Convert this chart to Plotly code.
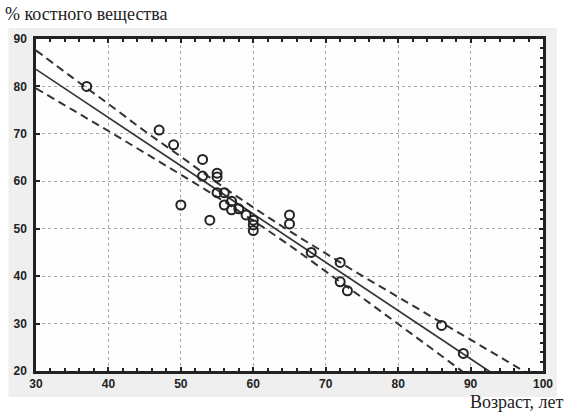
import plotly.graph_objects as go

# Observations: age (years) vs bone substance (%)
age = [37, 47, 49, 50, 53, 53, 54, 55, 55, 55, 56, 56, 57, 57, 58, 59,
       60, 60, 60, 65, 65, 68, 72, 72, 73, 86, 89]
bone = [80.0, 70.8, 67.7, 55.0, 64.6, 61.1, 51.8, 61.7, 60.9, 57.6, 57.6,
        55.0, 55.8, 54.0, 54.2, 52.9, 51.8, 50.8, 49.6, 52.9, 51.0, 45.0,
        42.9, 38.8, 36.9, 29.6, 23.7]

# Fitted regression line (end points)
fit_x = [30, 100]
fit_y = [83.6, 12.4]

# Confidence band around the fit
band_x = [30, 35, 40, 45, 50, 55, 60, 65, 70, 75, 80, 85, 90, 95, 100]
band_upper = [87.6, 81.9, 76.3, 70.6, 65.2, 59.7, 54.5, 49.5, 44.8, 40.1,
              35.6, 31.1, 26.6, 22.1, 17.6]
band_lower = [79.6, 75.1, 70.6, 66.0, 61.4, 56.7, 51.7, 46.5, 41.0, 35.5,
              29.9, 24.3, 18.6, 12.9, 7.2]

x_ticks = [30, 40, 50, 60, 70, 80, 90, 100]
y_ticks = [20, 30, 40, 50, 60, 70, 80, 90]

W, H = 565, 412
ML, MR, MT, MB = 36, 14, 39, 41
PW, PH = W - ML - MR, H - MT - MB


def px_x(p):
    return (p - ML) / PW


def px_y(p):
    return (H - MB - p) / PH


INK = "#222222"
tick_font = dict(family="Liberation Sans", size=12, color=INK, weight="bold")
serif = dict(family="Liberation Serif", size=18, color=INK)

fig = go.Figure()

dash_style = dict(color="#333333", width=2, dash="8px,5px")
fig.add_trace(go.Scatter(x=band_x, y=band_upper, mode="lines",
                         line=dict(shape="spline", **dash_style),
                         hoverinfo="skip"))
fig.add_trace(go.Scatter(x=band_x, y=band_lower, mode="lines",
                         line=dict(shape="spline", **dash_style),
                         hoverinfo="skip"))
fig.add_trace(go.Scatter(x=fit_x, y=fit_y, mode="lines",
                         line=dict(color="#333333", width=1.7)))
fig.add_trace(go.Scatter(x=age, y=bone, mode="markers",
                         marker=dict(symbol="circle-open", size=9,
                                     color=INK, line=dict(width=2, color=INK))))
# companion trace for the right-hand axis
fig.add_trace(go.Scatter(x=[30], y=[20], yaxis="y2", mode="markers",
                         marker=dict(opacity=0), hoverinfo="skip"))

fig.update_layout(
    width=W, height=H,
    margin=dict(l=ML, r=MR, t=MT, b=MB),
    paper_bgcolor="white",
    plot_bgcolor="rgba(0,0,0,0)",
    showlegend=False,
    xaxis=dict(range=[30, 100], tickvals=x_ticks, ticks="inside", ticklen=4,
               tickwidth=2, tickcolor=INK,
               minor=dict(dtick=2, ticks="inside", ticklen=3, tickwidth=2,
                          tickcolor=INK, showgrid=False),
               showline=True, linewidth=2.5, linecolor=INK, mirror="ticks",
               showgrid=True, gridcolor="#aaaaaa", gridwidth=1, griddash="dot",
               zeroline=False, tickfont=tick_font),
    yaxis=dict(range=[20, 90], tickvals=y_ticks, ticks="inside", ticklen=4,
               tickwidth=2, tickcolor=INK,
               showline=True, linewidth=2.5, linecolor=INK, mirror=True,
               showgrid=True, gridcolor="#aaaaaa", gridwidth=1, griddash="dot",
               zeroline=False, tickfont=tick_font, ticklabelstandoff=4),
    yaxis2=dict(range=[20, 90], overlaying="y", side="right",
                tickvals=y_ticks, ticks="inside", ticklen=4, tickwidth=2,
                tickcolor=INK, showticklabels=False, showgrid=False,
                zeroline=False, showline=False,
                minor=dict(dtick=2, ticks="inside", ticklen=3, tickwidth=2,
                           tickcolor=INK)),
    shapes=[
        dict(type="rect", xref="paper", yref="paper", layer="below",
             x0=px_x(8), x1=px_x(W), y0=px_y(397), y1=px_y(28),
             fillcolor="#efefef", line=dict(width=0)),
        dict(type="rect", xref="paper", yref="paper", layer="below",
             x0=0, x1=1, y0=0, y1=1,
             fillcolor="#fdfdfd", line=dict(width=0)),
    ],
    annotations=[
        dict(text="% костного вещества", xref="paper", yref="paper",
             x=px_x(2), y=px_y(14), xanchor="left", yanchor="middle",
             showarrow=False, font=serif),
        dict(text="Возраст, лет", xref="paper", yref="paper",
             x=px_x(574), y=px_y(402), xanchor="right", yanchor="middle",
             showarrow=False, font=serif),
    ],
)

fig.write_html("out.html")
